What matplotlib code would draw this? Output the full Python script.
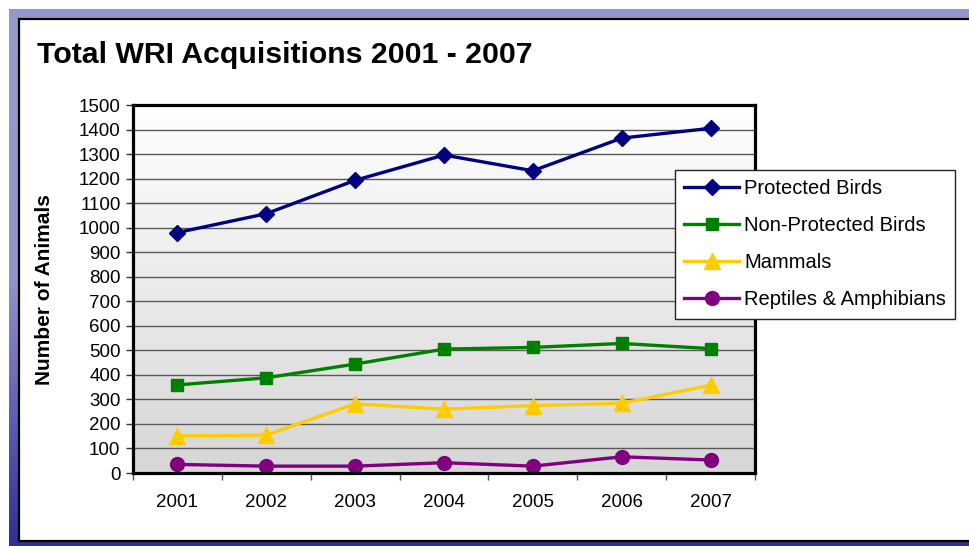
import matplotlib
matplotlib.use("Agg")
import matplotlib.pyplot as plt
import numpy as np
from matplotlib.colors import LinearSegmentedColormap
from matplotlib.patches import Rectangle

plt.rcParams['font.family'] = ['Liberation Sans', 'DejaVu Sans']

# datos
years = ["2001", "2002", "2003", "2004", "2005", "2006", "2007"]
protected_birds = [980, 1057, 1193, 1296, 1232, 1365, 1405]
non_protected_birds = [359, 388, 444, 505, 512, 528, 507]
mammals = [151, 155, 282, 260, 275, 284, 358]
reptiles = [35, 28, 28, 42, 28, 66, 53]

series = [
    ("Protected Birds", protected_birds, "#000080", "D", 8),
    ("Non-Protected Birds", non_protected_birds, "#008000", "s", 9),
    ("Mammals", mammals, "#FFCC00", "^", 11),
    ("Reptiles & Amphibians", reptiles, "#800080", "o", 10),
]

W, H = 969, 546
fig = plt.figure(figsize=(W / 100, H / 100), dpi=100)

# marco morado de la diapositiva
bg = fig.add_axes([0, 0, 1, 1], zorder=-5)
bg.set_xlim(0, W)
bg.set_ylim(H, 0)
bg.axis("off")
frame_cmap = LinearSegmentedColormap.from_list("frame", ["#9a9acd", "#9393c9", "#2e3094"])
bg.imshow(np.linspace(0, 1, 200)[:, None], cmap=frame_cmap, aspect="auto",
          extent=[9, 19, H, 9], zorder=1)
bg.add_patch(Rectangle((9, 9), W - 9, 10, color="#9696cb", lw=0, zorder=2))
bg.add_patch(Rectangle((9, 541), W - 9, 6, color="#2e3094", lw=0, zorder=2))
bg.add_patch(Rectangle((19, 19), W, 522, facecolor="white", edgecolor="black", lw=1.6, zorder=3))

ax = fig.add_axes([133 / W, 1 - 473 / H, (755 - 133) / W, (473 - 105) / H])
x = np.arange(len(years))

grad = LinearSegmentedColormap.from_list("g", ["#d6d6d6", "#ffffff"])
ax.imshow(np.linspace(0, 1, 256)[:, None], cmap=grad, aspect="auto",
          extent=[-0.5, len(years) - 0.5, 0, 1500], origin="lower", zorder=0)

for name, vals, color, mk, ms in series:
    ax.plot(x, vals, color=color, lw=2.4, marker=mk, markersize=ms,
            markeredgecolor=color, label=name, zorder=3, clip_on=False)

ax.set_xlim(-0.5, len(years) - 0.5)
ax.set_ylim(0, 1500)
ax.set_yticks(range(0, 1501, 100))
ax.yaxis.grid(True, color="#5a5a5a", lw=1.0, zorder=1)
ax.set_axisbelow(False)
ax.tick_params(axis="y", labelsize=13.5, length=5, width=1, pad=4, color="#333333")

ax.set_xticks(x)
ax.set_xticklabels(years)
ax.set_xticks(np.arange(-0.5, len(years)), minor=True)
ax.tick_params(axis="x", which="major", length=0, labelsize=13.5, pad=15)
ax.tick_params(axis="x", which="minor", length=5, width=1, color="#555555")

for s in ax.spines.values():
    s.set_linewidth(2.3)
    s.set_color("black")
    s.set_zorder(4)

fig.text(37 / W, 1 - 55 / H, "Total WRI Acquisitions 2001 - 2007",
         fontsize=21.8, fontweight="bold", va="center", ha="left")
fig.text(45 / W, 1 - 290 / H, "Number of Animals", rotation=90,
         fontsize=15, fontweight="bold", va="center", ha="center")

leg = fig.legend(loc="upper left", bbox_to_anchor=(675 / W, 1 - 170 / H),
                 bbox_transform=fig.transFigure, borderaxespad=0,
                 fontsize=14.5, frameon=True, fancybox=False, framealpha=1,
                 edgecolor="#222222", handlelength=2.75, labelspacing=0.9,
                 handletextpad=0.25, borderpad=0.45)
leg.get_frame().set_linewidth(1.0)
leg.set_zorder(10)

fig.savefig("out.png", dpi=100)
